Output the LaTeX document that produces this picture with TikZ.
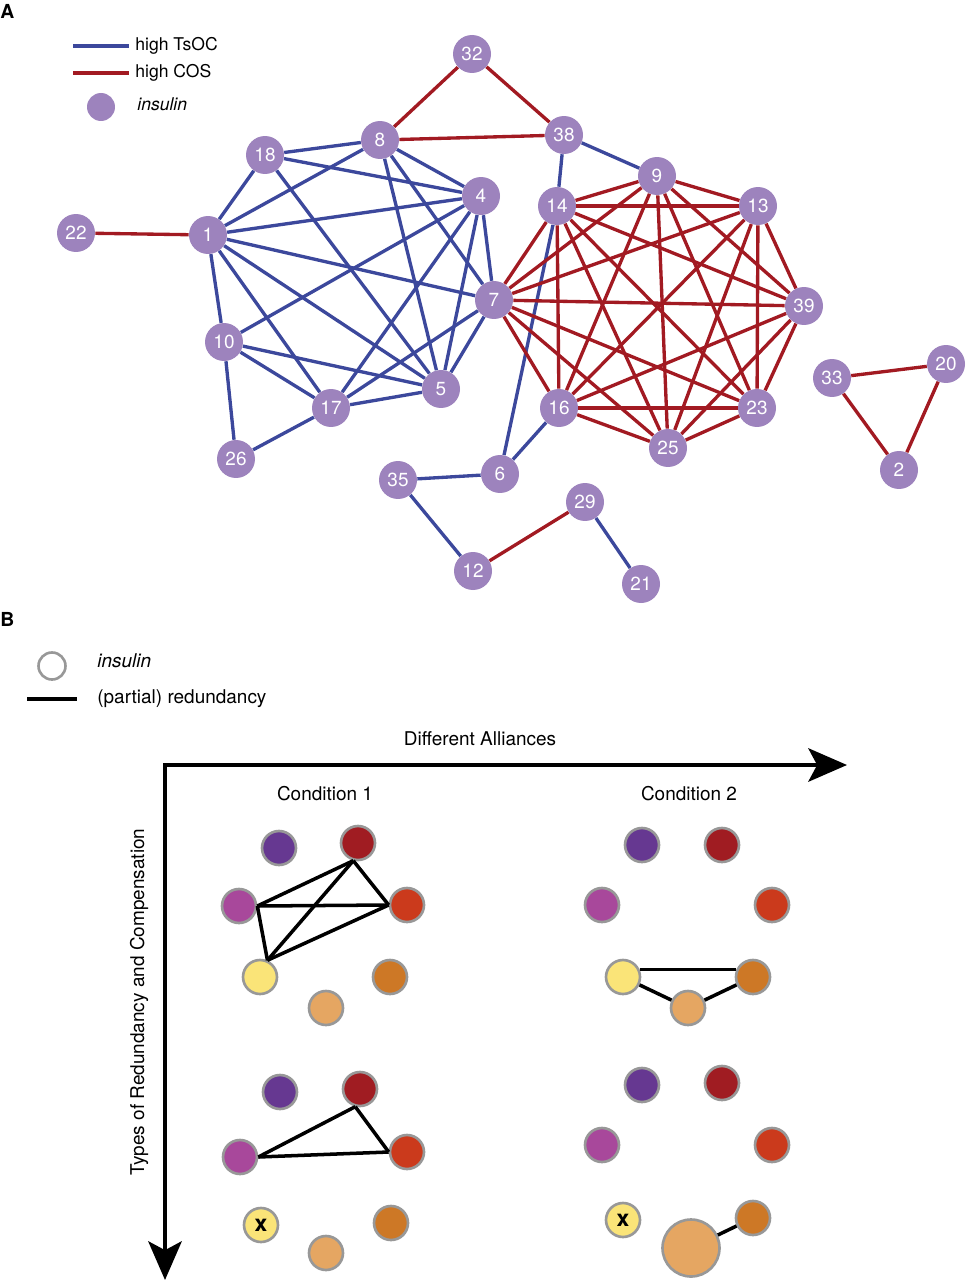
\documentclass[tikz,border=0pt]{standalone}
\usepackage{fontspec}
\setmainfont{TeX Gyre Heros}
\usetikzlibrary{arrows.meta}
\definecolor{insulin}{RGB}{157,131,189}
\definecolor{tsocblue}{RGB}{60,72,156}
\definecolor{cosred}{RGB}{162,26,34}
\definecolor{ringgray}{RGB}{152,152,152}
\definecolor{cpurple}{RGB}{102,56,145}
\definecolor{cdarkred}{RGB}{160,28,34}
\definecolor{cmagenta}{RGB}{168,72,155}
\definecolor{credorange}{RGB}{203,58,28}
\definecolor{cyellow}{RGB}{250,228,120}
\definecolor{corange}{RGB}{205,120,38}
\definecolor{clightorange}{RGB}{229,166,98}
\tikzset{
	gene/.style={circle,fill=insulin,minimum size=0.76cm,inner sep=0pt,text=white,font=\fontsize{10.8}{12}\selectfont},
	bead/.style={circle,draw=ringgray,line width=1.5pt,minimum size=0.68cm,inner sep=0pt},
	tsoc/.style={draw=tsocblue,line width=1.9pt},
	cos/.style={draw=cosred,line width=1.9pt},
	redund/.style={draw=black,line width=2pt},
	label/.style={anchor=west,inner sep=0pt},
	btext/.style={font=\fontsize{10.8}{12}\selectfont}
}
\begin{document}
\begin{tikzpicture}[x=0.02cm,y=-0.02cm,every node/.style={font=\fontsize{10}{12}\selectfont}]
			\useasboundingbox (0,0) rectangle (965,1280);
			% panel A
			\node[label,font=\bfseries\fontsize{11}{12}\selectfont] (A) at (0,11) {A};
			\coordinate (ta) at (73,46); \coordinate (tb) at (129,46);
			\coordinate (ca) at (73,73); \coordinate (cb) at (129,73);
			\draw[tsoc] (ta) -- (tb);
			\draw[cos] (ca) -- (cb);
			\node[label] (ltsoc) at (135,46) {high TsOC};
			\node[label] (lcos) at (135,73) {high COS};
			\node[gene,minimum size=0.56cm] (lins) at (101,107) {};
			\node[label] (lins-t) at (137,104) {\itshape insulin};

			\node[gene] (n32) at (472,54) {32};
			\node[gene] (n8) at (380,140) {8};
			\node[gene] (n38) at (564,135) {38};
			\node[gene] (n18) at (265,155) {18};
			\node[gene] (n9) at (657,176) {9};
			\node[gene] (n4) at (481,196) {4};
			\node[gene] (n14) at (557,206) {14};
			\node[gene] (n13) at (758,206) {13};
			\node[gene] (n1) at (208,235) {1};
			\node[gene] (n22) at (76,233) {22};
			\node[gene] (n7) at (494,300) {7};
			\node[gene] (n39) at (804,306) {39};
			\node[gene] (n10) at (224,342) {10};
			\node[gene] (n33) at (832,378) {33};
			\node[gene] (n20) at (946,364) {20};
			\node[gene] (n5) at (441,389) {5};
			\node[gene] (n17) at (331,408) {17};
			\node[gene] (n16) at (559,408) {16};
			\node[gene] (n23) at (757,408) {23};
			\node[gene] (n25) at (668,448) {25};
			\node[gene] (n26) at (236,459) {26};
			\node[gene] (n6) at (500,474) {6};
			\node[gene] (n35) at (398,480) {35};
			\node[gene] (n2) at (899,470) {2};
			\node[gene] (n29) at (585,502) {29};
			\node[gene] (n12) at (473,571) {12};
			\node[gene] (n21) at (641,584) {21};

			\path[tsoc]
			(n18) edge (n8) edge (n4) edge (n1) edge (n5)
			(n8) edge (n1) edge (n4) edge (n7) edge (n5)
			(n1) edge (n4) edge (n7) edge (n10) edge (n17) edge (n5)
			(n4) edge (n10) edge (n17) edge (n5) edge (n7)
			(n7) edge (n17) edge (n5)
			(n10) edge (n5) edge (n17) edge (n26)
			(n17) edge (n5) edge (n26)
			(n38) edge (n9) edge (n14)
			(n6) edge (n14) edge (n16) edge (n35)
			(n35) edge (n12)
			(n29) edge (n21);
			\path[cos]
			(n7) edge (n14) edge (n9) edge (n13) edge (n39) edge (n23) edge (n25) edge (n16)
			(n14) edge (n9) edge (n13) edge (n39) edge (n23) edge (n25) edge (n16)
			(n9) edge (n13) edge (n39) edge (n23) edge (n25) edge (n16)
			(n13) edge (n39) edge (n23) edge (n25) edge (n16)
			(n39) edge (n23) edge (n25) edge (n16)
			(n23) edge (n25) edge (n16)
			(n25) edge (n16)
			(n22) edge (n1)
			(n32) edge (n8) edge (n38)
			(n8) edge (n38)
			(n12) edge (n29)
			(n33) edge (n20) edge (n2)
			(n20) edge (n2);

			% panel B
			\node[label,font=\bfseries\fontsize{11}{12}\selectfont] (B) at (0,619) {B};
			\node[bead,minimum size=0.54cm] (lring) at (52,666) {};
			\node[label,btext] (lring-t) at (97,661) {\itshape insulin};
			\coordinate (ra) at (27,699); \coordinate (rb) at (77,699);
			\draw[redund,line width=2.3pt] (ra) -- (rb);
			\node[label,btext] (lred) at (97,699) {(partial) redundancy};

			\coordinate (origin) at (165,765);
			\coordinate (xend) at (847,765);
			\coordinate (yend) at (165,1280);
			\draw[line width=2.3pt,{Stealth[length=22pt,width=19pt,inset=5pt]}-{Stealth[length=22pt,width=19pt,inset=5pt]}]
			(xend) -- (origin) -- (yend);
			\node[btext] (alliances) at (480,739) {Different Alliances};
			\node[btext,rotate=90] (types) at (139,1002) {Types of Redundancy and Compensation};
			\node[btext] (cond1) at (325,794) {Condition 1};
			\node[btext] (cond2) at (689,794) {Condition 2};

			\node[bead,fill=cpurple] (a-pu) at (279,848) {};
			\node[bead,fill=cdarkred] (a-dr) at (358,843) {};
			\node[bead,fill=cmagenta] (a-mg) at (239,906) {};
			\node[bead,fill=credorange] (a-ro) at (407,905) {};
			\node[bead,fill=cyellow] (a-yl) at (260,977) {};
			\node[bead,fill=corange] (a-or) at (390,977) {};
			\node[bead,fill=clightorange] (a-lo) at (326,1008) {};
			\path[redund]
			(a-dr.-105) edge (a-mg.east) edge (a-yl.66) edge (a-ro.west)
			(a-mg.east) edge (a-ro.west) edge (a-yl.66)
			(a-yl.66) edge (a-ro.west);

			\node[bead,fill=cpurple] (b-pu) at (642,845) {};
			\node[bead,fill=cdarkred] (b-dr) at (722,845) {};
			\node[bead,fill=cmagenta] (b-mg) at (602,905) {};
			\node[bead,fill=credorange] (b-ro) at (772,905) {};
			\node[bead,fill=cyellow] (b-yl) at (623,977) {};
			\node[bead,fill=corange] (b-or) at (753,977) {};
			\node[bead,fill=clightorange] (b-lo) at (688,1008) {};
			\path[redund]
			(b-yl.25) edge (b-or.155)
			(b-yl) edge (b-lo)
			(b-lo) edge (b-or);

			\node[bead,fill=cpurple] (c-pu) at (280,1092) {};
			\node[bead,fill=cdarkred] (c-dr) at (360,1089) {};
			\node[bead,fill=cmagenta] (c-mg) at (240,1157) {};
			\node[bead,fill=credorange] (c-ro) at (407,1152) {};
			\node[bead,fill=cyellow,font=\bfseries\fontsize{13}{13}\selectfont] (c-yl) at (261,1225) {x};
			\node[bead,fill=corange] (c-or) at (391,1223) {};
			\node[bead,fill=clightorange] (c-lo) at (326,1253) {};
			\path[redund]
			(c-dr.-105) edge (c-mg.east) edge (c-ro.west)
			(c-mg.east) edge (c-ro.west);

			\node[bead,fill=cpurple] (d-pu) at (642,1085) {};
			\node[bead,fill=cdarkred] (d-dr) at (722,1083) {};
			\node[bead,fill=cmagenta] (d-mg) at (602,1145) {};
			\node[bead,fill=credorange] (d-ro) at (772,1145) {};
			\node[bead,fill=cyellow,font=\bfseries\fontsize{13}{13}\selectfont] (d-yl) at (623,1220) {x};
			\node[bead,fill=corange] (d-or) at (753,1218) {};
			\node[bead,fill=clightorange,minimum size=1.14cm] (d-lo) at (691,1248) {};
			\path[redund]
			(d-lo) edge (d-or);
		\end{tikzpicture}
\end{document}
